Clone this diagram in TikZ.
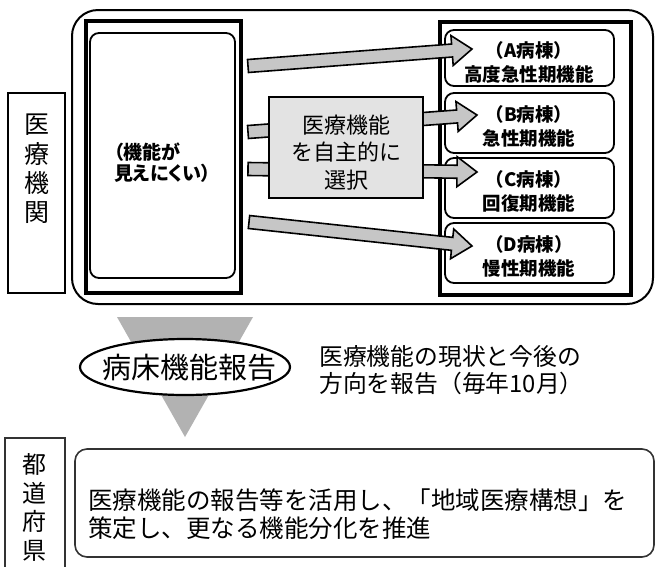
\documentclass[tikz,border=0pt]{standalone}
\usepackage{fontspec}
\setmainfont{Noto Sans CJK JP}
\newfontfamily\jpprop{Noto Sans CJK JP}[RawFeature=+palt]
\usetikzlibrary{calc,shapes.geometric}
\newcommand\jfs[2]{\fontsize{#1}{#2}\selectfont}
% block arrow from tail coordinate #1 to tip coordinate #2
\newcommand\blockarrow[2]{%
  \coordinate (#1m) at ($(#2)!20pt!(#1)$);
  \draw[barrow] ($(#1)!6.5pt!90:(#2)$) -- ($(#1m)!6.5pt!90:(#2)$)
    -- ($(#1m)!15pt!90:(#2)$) -- (#2) -- ($(#1m)!15pt!-90:(#2)$)
    -- ($(#1m)!6.5pt!-90:(#2)$) -- ($(#1)!6.5pt!-90:(#2)$) -- cycle;
}
\begin{document}
\begin{tikzpicture}[x=1pt,y=-1pt,
  box/.style={draw, line width=2pt, inner sep=0pt},
  panel/.style={draw, line width=3.2pt, inner sep=0pt},
  rbox/.style={draw, line width=1.8pt, rounded corners=9pt, inner sep=0pt},
  lbl/.style={inner sep=0pt, align=center},
  wtxt/.style={lbl, font=\bfseries\jfs{18.5}{24}},
  barrow/.style={draw, line width=1.6pt, fill=gray!45, line join=miter},
  funnel/.style={fill=gray!60},
  selbox/.style={draw, line width=1.4pt, fill=gray!22, inner sep=0pt},
  grain/.style={draw=black!80, line width=1.6pt}]
\useasboundingbox (0,0) rectangle (656,566);
\fill[white] (0,0) rectangle (656,566);

% 医療機関
\node[box, minimum width=57pt, minimum height=200pt] (medbox) at (36.5,193) {};
\node[lbl, font=\jfs{25}{29.3}] (medtxt) at (37,169) {医\\療\\機\\関};

% outer rounded frame
\node[draw, line width=2pt, rounded corners=26pt, inner sep=0pt,
      minimum width=581pt, minimum height=294pt] (outer) at (362.5,157) {};

% left panel
\node[panel, minimum width=155pt, minimum height=272pt] (lpanel) at (163.5,157) {};
\node[rbox, minimum width=145pt, minimum height=245pt] (linner) at (162.5,155.5) {};
\node[lbl, anchor=west, align=left, font=\bfseries\jpprop\jfs{19}{21}] (ltxt) at (114,163) {（機能が\\見えにくい）};

% right panel
\node[panel, minimum width=191pt, minimum height=273pt] (rpanel) at (535.5,158.5) {};
\node[rbox, minimum width=169pt, minimum height=56pt] (wA) at (529.5,58) {};
\node[rbox, minimum width=169pt, minimum height=60pt] (wB) at (529.5,123) {};
\node[rbox, minimum width=169pt, minimum height=60pt] (wC) at (529.5,188) {};
\node[rbox, minimum width=169pt, minimum height=60pt] (wD) at (529.5,253) {};
\node[wtxt] (tA) at (529,62) {（A病棟）\\高度急性期機能};
\node[wtxt] (tB) at (529,126) {（B病棟）\\急性期機能};
\node[wtxt] (tC) at (529,191) {（C病棟）\\回復期機能};
\node[wtxt] (tD) at (529,256) {（D病棟）\\慢性期機能};

% arrows
\coordinate (t1) at (248,66);  \coordinate (h1) at (472,49);
\coordinate (t2) at (248,132); \coordinate (h2) at (477,115);
\coordinate (t3) at (248,169); \coordinate (h3) at (477,172);
\coordinate (t4) at (249,222); \coordinate (h4) at (472,246);
\blockarrow{t1}{h1}
\blockarrow{t4}{h4}
\blockarrow{t2}{h2}
\blockarrow{t3}{h3}

% central selection box
\node[selbox, minimum width=154pt, minimum height=101pt] (sel) at (346,147.5) {};
\node[lbl, font=\jfs{22}{27.5}] (seltxt) at (346,152.5) {医療機能\\を自主的に\\選択};

% funnel and report ellipse
\coordinate (f1) at (117,317);
\coordinate (f2) at (253,317);
\coordinate (f3) at (185,437);
\fill[funnel] (f1) -- (f2) -- (f3) -- cycle;
\node[ellipse, draw, line width=2.2pt, fill=white, inner sep=0pt,
      minimum width=210pt, minimum height=56pt] (rep) at (185,367) {};
\node[lbl, font=\jfs{29}{29}] (reptxt) at (189,368) {病床機能報告};
\node[lbl, anchor=west, align=left, font=\jfs{23.8}{27}] (note) at (319,370)
  {医療機能の現状と今後の\\方向を報告（毎年10月）};

% 都道府県
\coordinate (p1) at (5,572); \coordinate (p2) at (5,438);
\coordinate (p3) at (65,438); \coordinate (p4) at (65,572);
\draw[grain] (p1) -- (p2) -- (p3) -- (p4);
\node[lbl, font=\jfs{24}{28.5}] (preftxt) at (35,507.5) {都\\道\\府\\県};

% prefecture plan box
\node[grain, rounded corners=12pt, inner sep=0pt,
      minimum width=579pt, minimum height=108pt] (plan) at (364.5,503) {};
\node[lbl, anchor=west, align=left, font=\jfs{24.5}{28}] (plantxt) at (88,514)
  {医療機能の報告等を活用し、「地域医療構想」を\\策定し、更なる機能分化を推進};
\end{tikzpicture}
\end{document}
